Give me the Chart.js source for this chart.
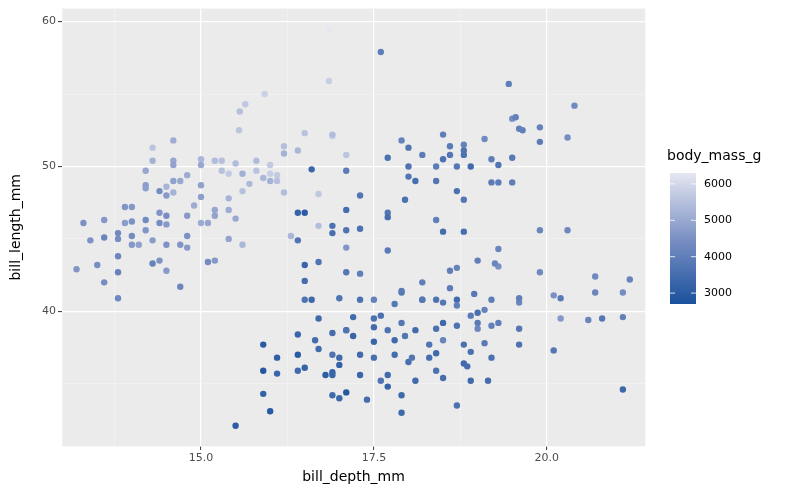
<!DOCTYPE html>
<html><head><meta charset="utf-8">
<script src="https://cdn.jsdelivr.net/npm/chart.js@4"></script>
<style>html,body{margin:0;padding:0;background:#fff}#w{width:800px;height:494px}</style>
</head><body><div id="w"><canvas id="c"></canvas></div>
<script>
// bill_depth_mm, bill_length_mm, body_mass_g
const billDepth = [16.85,16.85,15.64,15.92,15.55,15.56,16.2,16.2,16.4,16.5,16.9,16.9,17.1,16.7,16.7,16.3,15.0,15.0,15.2,15.3,15.3,15.5,15.4,15.6,15.8,15.8,15.9,16.0,16.0,16.1,16.1,16.2,16.0,15.6,15.7,15.4,15.4,15.5,15.6,15.4,15.2,15.0,15.0,15.0,14.9,14.8,14.8,14.6,14.6,14.6,14.3,14.3,14.2,14.2,14.2,14.6,14.5,14.4,14.5,14.6,14.7,14.0,13.9,13.9,14.0,14.2,14.4,14.5,14.5,14.4,14.8,14.7,14.5,14.3,14.2,14.0,14.0,13.8,13.8,13.8,13.8,13.8,13.6,13.6,13.5,13.6,13.3,13.4,13.2,14.3,14.4,14.5,14.7,15.1,15.2,14.1,14.8,15.2,15.1,
17.6,16.6,16.4,16.5,16.4,17.1,17.1,16.9,16.9,17.1,17.3,17.3,17.1,17.7,17.7,17.7,17.7,17.9,18.0,18.0,18.0,18.1,18.2,18.4,18.4,18.4,18.5,18.5,18.6,18.6,18.8,18.8,18.7,18.8,18.9,18.7,18.8,18.5,18.8,19.1,19.2,19.3,19.2,19.3,19.5,19.5,19.5,19.6,19.45,19.55,19.65,19.9,19.9,20.3,20.4,19.9,20.3,19.3,17.95,
15.5,15.9,15.9,16.0,15.9,16.1,16.1,16.4,16.4,16.4,16.5,16.65,16.7,16.7,16.9,16.9,16.9,16.9,16.5,16.5,16.5,16.7,16.6,16.8,17.0,17.0,17.0,16.9,17.0,17.1,17.1,17.1,17.2,17.3,17.2,17.3,17.3,17.4,17.3,17.1,17.5,17.5,17.5,17.5,17.5,17.6,17.6,17.7,17.7,17.7,17.8,17.8,17.8,17.9,17.9,17.9,17.95,18.0,18.05,17.9,17.9,18.1,18.1,18.2,18.2,18.2,18.3,18.3,18.4,18.4,18.4,18.4,18.5,18.5,18.5,18.5,18.6,18.6,18.7,18.7,18.7,18.7,18.8,18.8,18.85,18.9,18.9,18.7,18.9,18.95,19.0,19.0,19.0,19.1,19.1,19.2,19.15,19.2,19.2,19.3,19.0,19.25,19.3,19.6,19.6,19.6,19.6,19.9,20.1,20.2,20.1,20.2,20.6,20.7,20.8,21.5,21.1,20.7,21.1,21.2,21.1];
const billLength = [59.5,55.9,54.3,55.0,52.5,53.8,51.4,50.9,51.1,52.3,52.1,52.2,50.8,48.1,45.9,45.2,50.5,50.1,50.4,50.4,49.7,50.2,49.5,49.5,50.4,49.7,49.2,49.5,49.0,49.4,49.0,48.2,50.1,48.3,48.8,47.8,47.0,46.4,44.6,45.0,46.6,46.1,47.9,48.7,47.3,46.6,49.4,50.4,51.8,50.1,51.3,50.4,49.7,48.7,48.5,49.0,48.6,48.3,48.0,48.2,49.0,47.2,47.2,46.1,46.2,46.3,46.8,46.6,46.0,46.1,45.2,44.6,44.6,44.9,45.6,45.2,44.6,45.4,45.0,43.8,42.7,40.9,46.3,45.1,43.2,42.0,46.1,44.9,42.9,43.3,43.5,42.8,41.7,43.4,43.5,44.6,44.4,47.0,46.1,
57.9,49.8,46.8,46.8,44.9,49.7,47.0,45.9,45.4,45.6,48.0,45.7,44.4,50.6,46.8,46.5,44.2,51.8,51.3,49.3,50.0,49.0,50.8,50.0,49.0,46.3,50.5,52.2,51.4,50.8,51.5,50.8,50.0,51.1,50.0,48.3,47.7,45.5,45.5,51.9,50.5,50.1,48.9,48.9,48.9,50.6,53.3,52.6,55.7,53.4,52.5,51.7,52.7,52.0,54.2,45.6,45.6,43.1,47.7,
32.1,37.7,34.3,33.1,35.9,35.7,36.8,38.4,37.0,35.9,36.1,38.0,39.5,37.4,38.5,37.0,35.8,34.2,40.8,43.2,42.1,43.4,40.8,35.6,40.9,36.8,36.3,35.6,34.0,34.4,38.7,38.7,39.6,40.8,38.3,37.0,35.6,33.9,42.6,42.7,40.8,39.5,38.9,37.9,36.8,39.7,35.2,35.6,34.8,38.7,38.0,37.0,40.5,41.3,41.4,39.2,38.3,36.5,36.8,34.2,33.0,35.2,38.7,40.8,42.0,40.8,36.8,37.7,40.8,38.8,37.1,35.9,35.4,40.6,39.2,38.0,41.6,42.8,43.0,40.8,40.4,39.0,37.7,36.4,36.2,35.2,37.2,33.5,39.7,41.2,39.9,39.2,38.8,40.1,37.8,36.8,35.2,40.8,39.0,39.2,43.5,43.3,44.3,37.7,38.8,40.6,40.9,42.7,41.1,40.9,37.3,39.5,39.4,42.4,39.5,46.0,41.3,41.3,39.6,42.2,34.6];
const bodyMass = [6300,5800,5650,5850,5600,5500,5500,5200,5300,5550,5800,5400,5600,5650,5450,5300,5300,5000,5400,5500,5500,5400,5700,5150,5400,5550,5300,5800,5200,5700,5500,5450,5700,5500,5350,5250,5100,5000,5300,4900,4900,5050,4800,4850,5100,4700,5050,4950,5100,4900,5600,5200,4950,4750,4800,4850,5250,4400,4700,5200,5000,4650,4600,4750,4500,4350,4600,4450,4700,4400,4500,4600,4550,4750,4600,4400,4650,4300,4400,4200,4100,4300,4650,4200,4450,4400,4500,4550,4600,4100,4550,4700,4200,4350,4650,4850,4700,4950,4950,
4000,3300,3200,3000,3700,3900,3500,3600,3550,3700,3750,3600,4600,3600,3750,3500,3900,4100,3750,3750,3700,3550,3950,3950,3750,4000,3650,4000,3900,3800,4100,3650,3800,3700,3450,3600,3775,3500,3525,4300,3975,3700,3900,3950,4000,3850,4400,4050,4000,4050,4050,3900,4100,4450,4300,4200,4250,4500,3650,
3050,3000,3200,2950,2900,3300,3100,3300,3000,3400,3200,3500,3400,3450,3500,3700,3200,3400,3700,3300,3500,3700,3350,3050,3700,3400,3150,3300,3350,2900,3650,3700,3450,3600,3250,3400,3300,3500,4000,3800,4050,3600,3450,3300,3550,3600,3700,3450,3200,3650,3400,3500,3800,3725,3900,3800,3750,3550,3750,3350,3350,3400,3450,3650,4000,3800,3550,3700,3675,3600,3400,3650,3500,3800,3350,4150,3950,4000,4100,3450,4000,3650,3600,3400,3500,3400,3600,3600,3900,3825,3550,3900,4250,4100,3900,3600,3500,3950,4050,4000,4000,4200,4200,3650,3800,4250,4000,4300,4475,3900,3775,4650,4200,4300,3800,4200,4400,4200,4050,4150,3350];
const xTickLabels = [15, 17.5, 20];
const yTickLabels = [40, 50, 60];
const legendTicks = [3000, 4000, 5000, 6000];
const massMin = 2700, massMax = 6300;

const stops = [[0,[26,81,156]],[0.5,[123,144,196]],[1,[229,231,241]]];
function colorFor(m){
  let t = Math.max(0, Math.min(1, (m - massMin) / (massMax - massMin)));
  for (let i=0;i<stops.length-1;i++){
    const [a,ca]=stops[i],[b,cb]=stops[i+1];
    if (t<=b){const u=(t-a)/(b-a);return 'rgb('+ca.map((v,k)=>Math.round(v+(cb[k]-v)*u)).join(',')+')';}
  }
}
const pts = billDepth.map((d,i)=>({x:d,y:billLength[i]}));
const font = 'DejaVu Sans';
const isMajor = (v,arr)=>arr.some(a=>Math.abs(a-v)<1e-6);

const bgPlugin = {id:'bg', beforeDraw(ch){const {ctx,chartArea:a}=ch;ctx.save();ctx.fillStyle='#EBEBEB';ctx.fillRect(a.left,a.top,a.right-a.left,a.bottom-a.top);ctx.restore();}};
const legendPlugin = {id:'cbar', afterDraw(ch){
  const ctx=ch.ctx; const x0=670,w=26,top=173,bot=304;
  ctx.save();
  for(let y=top;y<bot;y++){const m=massMax-(y-top+0.5)/(bot-top)*(massMax-massMin);ctx.fillStyle=colorFor(m);ctx.fillRect(x0,y,w,1);}
  ctx.font='14px "'+font+'"';ctx.fillStyle='#000';ctx.textBaseline='alphabetic';ctx.fillText('body_mass_g',667,160);
  ctx.font='11px "'+font+'"';ctx.fillStyle='#000';ctx.textBaseline='middle';
  legendTicks.forEach(v=>{const y=bot-(v-massMin)/(massMax-massMin)*(bot-top);
    ctx.strokeStyle='rgba(255,255,255,0.8)';ctx.lineWidth=1;ctx.beginPath();ctx.moveTo(x0,y);ctx.lineTo(x0+5,y);ctx.moveTo(x0+w-5,y);ctx.lineTo(x0+w,y);ctx.stroke();
    ctx.fillText(String(v),704,y);});
  ctx.restore();}};

new Chart(document.getElementById('c'),{
  type:'scatter',
  data:{datasets:[{data:pts,pointRadius:3.2,pointHoverRadius:3.2,borderWidth:0,
    backgroundColor:bodyMass.map(colorFor),pointBackgroundColor:bodyMass.map(colorFor)}]},
  options:{responsive:true,maintainAspectRatio:false,animation:false,
    layout:{padding:{top:8,right:155,left:0,bottom:0}},
    plugins:{legend:{display:false},tooltip:{enabled:false}},
    scales:{
      x:{type:'linear',min:12.99,max:21.42,
        afterFit(s){s.height=48;},
        border:{display:false},
        grid:{color:c=>isMajor(c.tick.value,xTickLabels)?'#FFFFFF':'#F5F5F5',lineWidth:c=>isMajor(c.tick.value,xTickLabels)?1.2:0.6,
          tickColor:c=>isMajor(c.tick.value,xTickLabels)?'#333333':'rgba(0,0,0,0)',tickLength:4,tickWidth:1},
        ticks:{stepSize:1.25,autoSkip:false,maxRotation:0,color:'#4D4D4D',font:{family:font,size:11},padding:2,
          callback:v=>isMajor(v,xTickLabels)?Number(v).toFixed(1):''},
        title:{display:true,text:'bill_depth_mm',color:'#000',font:{family:font,size:14},padding:{top:0,bottom:8}}},
      y:{type:'linear',min:30.7,max:60.9,
        afterFit(s){s.width=62;},
        border:{display:false},
        grid:{color:c=>isMajor(c.tick.value,yTickLabels)?'#FFFFFF':'#F5F5F5',lineWidth:c=>isMajor(c.tick.value,yTickLabels)?1.2:0.6,
          tickColor:c=>isMajor(c.tick.value,yTickLabels)?'#333333':'rgba(0,0,0,0)',tickLength:4,tickWidth:1},
        ticks:{stepSize:5,autoSkip:false,color:'#4D4D4D',font:{family:font,size:11},padding:2,
          callback:v=>isMajor(v,yTickLabels)?String(v):''},
        title:{display:true,text:'bill_length_mm',color:'#000',font:{family:font,size:14},padding:{top:8,bottom:0}}}
    }},
  plugins:[bgPlugin,legendPlugin]
});
</script></body></html>
